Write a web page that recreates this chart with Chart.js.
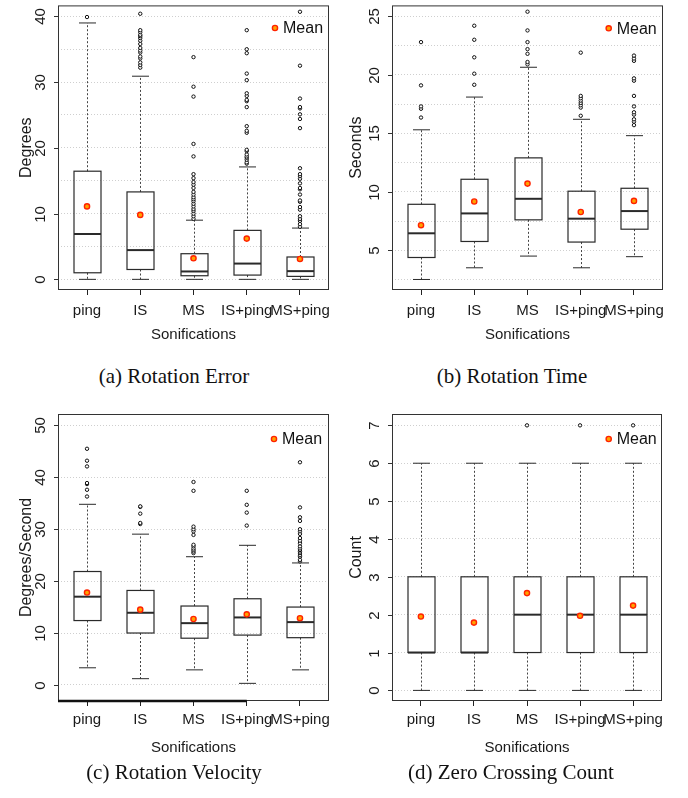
<!DOCTYPE html>
<html>
<head>
<meta charset="utf-8">
<script src="https://cdn.jsdelivr.net/npm/chart.js@4.4.1/dist/chart.umd.min.js"></script>
<style>
    body { margin: 0; width: 688px; height: 798px; background: #fff; position: relative; overflow: hidden; }
    canvas { position: absolute; }
    .caption { position: absolute; width: 300px; height: 26px; line-height: 26px; text-align: center;
               font-family: "Liberation Serif", "Times New Roman", serif; font-size: 21px; color: #111; }
</style>
</head>
<body>
<canvas id="chartA" width="340" height="350" style="left:0;top:0"></canvas>
<canvas id="chartB" width="348" height="350" style="left:340px;top:0"></canvas>
<canvas id="chartC" width="340" height="370" style="left:0;top:390px"></canvas>
<canvas id="chartD" width="348" height="370" style="left:340px;top:390px"></canvas>
<div class="caption" style="left:24px;top:363px">(a) Rotation Error</div>
<div class="caption" style="left:362px;top:363px">(b) Rotation Time</div>
<div class="caption" style="left:24px;top:759px">(c) Rotation Velocity</div>
<div class="caption" style="left:361px;top:759px">(d) Zero Crossing Count</div>
<script>
// sonification groups, same for every panel
var groups = ['ping', 'IS', 'MS', 'IS+ping', 'MS+ping'];

// (a) rotation error, degrees
var errorLow = [0, 0, 0, 0, 0];
var errorQ1 = [1.0, 1.5, 0.55, 0.65, 0.45];
var errorMedian = [6.9, 4.45, 1.2, 2.4, 1.25];
var errorQ3 = [16.45, 13.3, 3.9, 7.45, 3.4];
var errorHigh = [39.0, 30.9, 9.0, 17.1, 7.8];
var errorMean = [11.1, 9.8, 3.2, 6.2, 3.1];
var errorOutliers = [
    [39.9],
    [32.2, 32.6, 33.0, 33.6, 33.9, 34.5, 34.8, 35.2, 35.8, 36.3, 36.7, 37.0, 37.2, 37.6, 37.9, 40.4],
    [9.2, 9.6, 10.0, 10.4, 10.7, 11.1, 11.5, 11.9, 12.2, 12.5, 12.9, 13.3, 13.9, 14.4, 14.8, 15.4, 16.0,
     18.7, 20.6, 27.8, 29.3, 33.8],
    [17.6, 17.8, 18.2, 18.5, 18.7, 19.0, 19.5, 19.7, 22.3, 22.6, 23.3, 26.2, 27.1, 27.3, 27.9, 28.3,
     30.3, 31.3, 34.4, 35.0, 37.9],
    [8.0, 8.4, 8.9, 9.2, 9.6, 10.6, 11.0, 11.8, 12.0, 12.9, 13.7, 13.9, 14.6, 15.3, 15.7, 16.0, 16.9,
     23.0, 24.4, 25.1, 26.0, 26.2, 27.5, 32.5, 40.7]
];
var errorTicks = [0, 10, 20, 30, 40];
var errorGrid = [0, 5, 10, 15, 20, 25, 30, 35, 40];

// (b) rotation time, seconds
var timeLow = [2.5, 3.5, 4.5, 3.5, 4.45];
var timeQ1 = [4.38, 5.75, 7.6, 5.7, 6.8];
var timeMedian = [6.45, 8.15, 9.4, 7.7, 8.35];
var timeQ3 = [8.93, 11.07, 12.9, 10.05, 10.3];
var timeHigh = [15.3, 18.1, 20.65, 16.2, 14.8];
var timeMean = [7.14, 9.17, 10.7, 8.27, 9.22];
var timeOutliers = [
    [16.35, 17.1, 17.3, 19.1, 22.8],
    [19.15, 20.1, 21.5, 23.0, 24.2],
    [20.9, 21.1, 21.8, 22.2, 22.8, 23.8, 25.4],
    [16.5, 17.2, 17.4, 17.6, 17.8, 18.0, 18.2, 21.9],
    [15.7, 16.0, 16.2, 16.6, 16.8, 17.3, 18.2, 19.5, 19.7, 21.2, 21.4, 21.65]
];
var timeTicks = [5, 10, 15, 20, 25];
var timeGrid = [2.5, 5, 7.5, 10, 12.5, 15, 17.5, 20, 22.5, 25];

// (c) rotation velocity, degrees/second
var velocityLow = [3.3, 1.2, 2.9, 0.3, 2.9];
var velocityQ1 = [12.4, 10.0, 9.0, 9.6, 9.1];
var velocityMedian = [17.0, 13.9, 11.9, 13.0, 12.1];
var velocityQ3 = [21.85, 18.2, 15.2, 16.6, 15.0];
var velocityHigh = [34.8, 29.05, 24.7, 26.9, 23.5];
var velocityMean = [17.8, 14.5, 12.7, 13.6, 12.85];
var velocityOutliers = [
    [36.3, 37.6, 38.7, 38.9, 42.1, 43.2, 45.5],
    [31.0, 31.2, 33.0, 34.3, 34.4],
    [25.4, 25.7, 26.0, 26.3, 26.7, 27.0, 28.9, 29.6, 30.0, 30.5, 37.4, 39.1],
    [30.7, 33.2, 34.7, 37.4],
    [23.8, 24.1, 24.7, 25.0, 25.4, 25.7, 26.0, 26.3, 26.7, 27.3, 27.8, 28.3, 29.1, 29.6, 30.0, 31.6,
     32.3, 34.2, 42.9]
];
var velocityTicks = [0, 10, 20, 30, 40, 50];
var velocityGrid = [0, 10, 20, 30, 40, 50];

// (d) zero crossing count
var countLow = [0, 0, 0, 0, 0];
var countQ1 = [1, 1, 1, 1, 1];
var countMedian = [1, 1, 2, 2, 2];
var countQ3 = [3, 3, 3, 3, 3];
var countHigh = [6, 6, 6, 6, 6];
var countMean = [1.95, 1.79, 2.57, 1.97, 2.24];
var countOutliers = [[], [], [7], [7], [7]];
var countTicks = [0, 1, 2, 3, 4, 5, 6, 7];
var countGrid = [0, 1, 2, 3, 4, 5, 6, 7];

Chart.defaults.font.family = '"Liberation Sans", Arial, sans-serif';
Chart.defaults.color = '#1a1a1a';

var MEAN_FILL = '#ffa200';
var MEAN_EDGE = '#ff2200';

function line(ctx, x1, y1, x2, y2) {
    ctx.beginPath();
    ctx.moveTo(x1, y1);
    ctx.lineTo(x2, y2);
    ctx.stroke();
}

// draws boxes, whiskers and all the R-style decorations around them
function makeBoxPlugin(s, L) {
    return {
        id: 'boxplot',
        beforeDatasetsDraw: function (chart) {
            var ctx = chart.ctx, xs = chart.scales.x, ys = chart.scales.y;
            ctx.save();
            for (var i = 0; i < s.median.length; i++) {
                var x = Math.round(xs.getPixelForValue(i + 1)) + 0.5;
                var yLow = ys.getPixelForValue(s.low[i]);
                var yQ1 = ys.getPixelForValue(s.q1[i]);
                var yMed = ys.getPixelForValue(s.median[i]);
                var yQ3 = ys.getPixelForValue(s.q3[i]);
                var yHigh = ys.getPixelForValue(s.high[i]);

                ctx.strokeStyle = '#444';
                ctx.lineWidth = 1;
                ctx.setLineDash([2, 2]);
                line(ctx, x, yQ3, x, yHigh);
                line(ctx, x, yQ1, x, yLow);
                ctx.setLineDash([]);

                ctx.strokeStyle = '#2a2a2a';
                line(ctx, x - 8.5, yHigh, x + 8.5, yHigh);
                line(ctx, x - 8.5, yLow, x + 8.5, yLow);

                ctx.lineWidth = 1.2;
                ctx.strokeRect(x - 13.5, yQ3, 27, yQ1 - yQ3);
                ctx.lineWidth = 2;
                line(ctx, x - 13.5, yMed, x + 13.5, yMed);
            }
            ctx.restore();
        },
        afterDraw: function (chart) {
            var ctx = chart.ctx, ys = chart.scales.y, xs = chart.scales.x;
            var ca = chart.chartArea;
            ctx.save();

            // frame
            ctx.strokeStyle = '#333';
            ctx.lineWidth = 1;
            ctx.strokeRect(ca.left + 0.5, ca.top + 0.5, ca.right - ca.left - 1, ca.bottom - ca.top - 1);
            if (L.baseTo) {
                ctx.lineWidth = 2.5;
                ctx.strokeStyle = '#111';
                line(ctx, ca.left, ca.bottom, xs.getPixelForValue(L.baseTo), ca.bottom);
            }

            // y ticks, rotated like R
            ctx.lineWidth = 1;
            ctx.strokeStyle = '#333';
            ctx.fillStyle = '#1a1a1a';
            ctx.font = '15px "Liberation Sans", Arial, sans-serif';
            ctx.textAlign = 'center';
            ctx.textBaseline = 'middle';
            s.ticks.forEach(function (v) {
                var y = Math.round(ys.getPixelForValue(v)) + 0.5;
                line(ctx, ca.left - 4, y, ca.left, y);
                ctx.save();
                ctx.translate(ca.left - 17, y);
                ctx.rotate(-Math.PI / 2);
                ctx.fillText(String(v), 0, 0);
                ctx.restore();
            });

            // axis titles
            ctx.fillText('Sonifications', (ca.left + ca.right) / 2, L.xTitleY);
            ctx.save();
            ctx.font = '16px "Liberation Sans", Arial, sans-serif';
            ctx.translate(L.yTitleX, (ca.top + ca.bottom) / 2);
            ctx.rotate(-Math.PI / 2);
            ctx.fillText(s.title, 0, 0);
            ctx.restore();

            // legend
            ctx.beginPath();
            ctx.arc(L.legendX, L.legendY, 2.6, 0, Math.PI * 2);
            ctx.fillStyle = MEAN_FILL;
            ctx.fill();
            ctx.lineWidth = 1.4;
            ctx.strokeStyle = MEAN_EDGE;
            ctx.stroke();
            ctx.fillStyle = '#111';
            ctx.font = '16px "Liberation Sans", Arial, sans-serif';
            ctx.textAlign = 'left';
            ctx.fillText('Mean', L.legendX + 8, L.legendY + 1);
            ctx.restore();
        }
    };
}

function drawBoxChart(id, s, L) {
    var outlierPoints = [];
    s.outliers.forEach(function (list, i) {
        list.forEach(function (v) { outlierPoints.push({ x: i + 1, y: v }); });
    });
    var meanPoints = s.mean.map(function (v, i) { return { x: i + 1, y: v }; });

    return new Chart(document.getElementById(id), {
        type: 'scatter',
        data: {
            datasets: [{
                label: 'Mean',
                data: meanPoints,
                pointRadius: 2.6,
                pointBackgroundColor: MEAN_FILL,
                pointBorderColor: MEAN_EDGE,
                pointBorderWidth: 1.4
            }, {
                label: 'Outliers',
                data: outlierPoints,
                pointRadius: 1.7,
                pointBackgroundColor: '#fff',
                pointBorderColor: '#111',
                pointBorderWidth: 1
            }]
        },
        options: {
            responsive: false,
            animation: false,
            layout: { padding: L.padding },
            plugins: { legend: { display: false }, tooltip: { enabled: false } },
            scales: {
                x: {
                    type: 'linear',
                    min: 0.455,
                    max: 5.545,
                    afterBuildTicks: function (sc) {
                        sc.ticks = groups.map(function (g, i) { return { value: i + 1 }; });
                    },
                    afterFit: function (sc) { sc.height = L.xHeight; },
                    ticks: {
                        callback: function (v, i) { return groups[i]; },
                        font: { size: 15 },
                        padding: L.tickPad,
                        maxRotation: 0,
                        autoSkip: false
                    },
                    grid: { drawOnChartArea: false, tickLength: 5, color: '#222' },
                    border: { display: false }
                },
                y: {
                    min: L.yMin,
                    max: L.yMax,
                    afterBuildTicks: function (sc) {
                        sc.ticks = s.grid.map(function (v) { return { value: v }; });
                    },
                    afterFit: function (sc) { sc.width = L.yWidth; },
                    ticks: { display: false },
                    grid: { color: '#cfcfcf', drawTicks: false },
                    border: { display: false, dash: [1, 2] }
                }
            }
        },
        plugins: [makeBoxPlugin(s, L)]
    });
}

drawBoxChart('chartA', {
    title: 'Degrees', low: errorLow, q1: errorQ1, median: errorMedian, q3: errorQ3, high: errorHigh,
    mean: errorMean, outliers: errorOutliers, ticks: errorTicks, grid: errorGrid
}, {
    padding: { left: 0, top: 4, right: 11, bottom: 0 }, yWidth: 58, xHeight: 60, tickPad: 7,
    yMin: -1.62, yMax: 41.67, yTitleX: 27, xTitleY: 335, legendX: 275, legendY: 28
});

drawBoxChart('chartB', {
    title: 'Seconds', low: timeLow, q1: timeQ1, median: timeMedian, q3: timeQ3, high: timeHigh,
    mean: timeMean, outliers: timeOutliers, ticks: timeTicks, grid: timeGrid
}, {
    padding: { left: 0, top: 4, right: 25, bottom: 0 }, yWidth: 52, xHeight: 60, tickPad: 7,
    yMin: 1.6, yMax: 25.94, yTitleX: 17, xTitleY: 335, legendX: 268.7, legendY: 28.3
});

drawBoxChart('chartC', {
    title: 'Degrees/Second', low: velocityLow, q1: velocityQ1, median: velocityMedian, q3: velocityQ3,
    high: velocityHigh, mean: velocityMean, outliers: velocityOutliers, ticks: velocityTicks, grid: velocityGrid
}, {
    padding: { left: 0, top: 24, right: 11, bottom: 0 }, yWidth: 58, xHeight: 59, tickPad: 5,
    yMin: -3.1, yMax: 52.2, yTitleX: 27, xTitleY: 358, legendX: 274, legendY: 49, baseTo: 4
});

drawBoxChart('chartD', {
    title: 'Count', low: countLow, q1: countQ1, median: countMedian, q3: countQ3, high: countHigh,
    mean: countMean, outliers: countOutliers, ticks: countTicks, grid: countGrid
}, {
    padding: { left: 0, top: 24, right: 26, bottom: 0 }, yWidth: 52, xHeight: 59, tickPad: 5,
    yMin: -0.28, yMax: 7.3, yTitleX: 17, xTitleY: 358, legendX: 268.7, legendY: 49
});
</script>
</body>
</html>
